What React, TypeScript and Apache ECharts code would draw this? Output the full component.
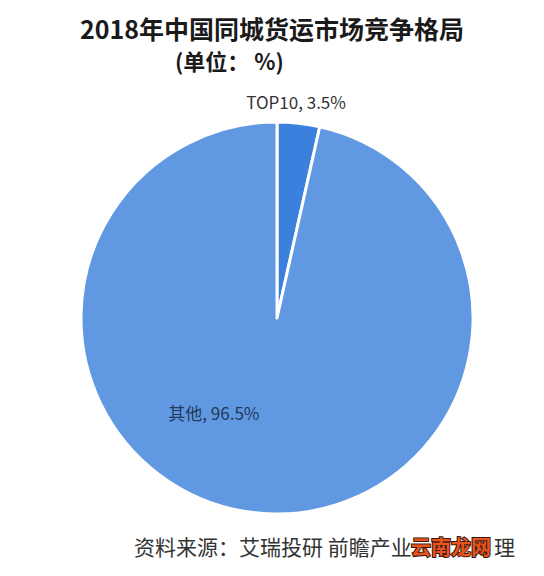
import React, { useEffect, useRef } from "react";
import * as echarts from "echarts";

const titleText = "2018年中国同城货运市场竞争格局";
const unitText = "(单位： %)";
const sourceTextVisible = "资料来源：艾瑞投研 前瞻产业";
const sourceTextTail = "理";
const watermarkText = "云南龙网";
const categories = ["TOP10", "其他"];
const values = [3.5, 96.5];
const colors = ["#3b80dc", "#6099e2"];

export default function App() {
  const ref = useRef<HTMLDivElement>(null);
  useEffect(() => {
    if (!ref.current) return;
    const chart = echarts.init(ref.current, null, { renderer: "svg" });
    const font = "'Noto Sans CJK SC', 'Noto Sans', sans-serif";
    chart.setOption({
      animation: false,
      backgroundColor: "#ffffff",
      title: [
        {
          text: titleText,
          left: "center",
          top: 10,
          textStyle: { fontSize: 25, fontWeight: "bold", color: "#1a1a1a", fontFamily: font },
        },
        {
          text: unitText,
          left: 170,
          top: 44,
          textStyle: { fontSize: 22, fontWeight: "bold", color: "#1a1a1a", fontFamily: font },
        },
      ],
      series: [
        {
          type: "pie",
          center: [277, 318],
          radius: [0, 196],
          startAngle: 90,
          clockwise: true,
          itemStyle: { borderColor: "#ffffff", borderWidth: 3 },
          labelLine: { show: false },
          data: categories.map((name, i) => ({
            name,
            value: values[i],
            itemStyle: { color: colors[i] },
            label:
              i === 0
                ? { show: true, position: "inside", offset: [8, -116], color: "#333333", fontSize: 17, formatter: "{b}, {c}%", fontFamily: font }
                : { show: true, position: "inside", offset: [-52, -6], color: "#23395b", fontSize: 17, formatter: "{b}, {c}%", fontFamily: font },
          })),
        },
      ],
      graphic: [
        {
          type: "text",
          left: 134,
          top: 535,
          style: { text: sourceTextVisible, fontSize: 21, fill: "#333333", fontFamily: font },
        },
        {
          type: "text",
          left: 410,
          top: 535,
          style: {
            text: watermarkText,
            fontSize: 20,
            fontWeight: "bold",
            fill: "#e8551c",
            stroke: "#3a1a10",
            lineWidth: 2,
            fontFamily: font,
          },
        },
        {
          type: "text",
          left: 494,
          top: 535,
          style: { text: sourceTextTail, fontSize: 21, fill: "#333333", fontFamily: font },
        },
      ],
    });
    return () => chart.dispose();
  }, []);
  return <div ref={ref} style={{ position: "fixed", left: 0, top: 0, width: 544, height: 576 }} />;
}
